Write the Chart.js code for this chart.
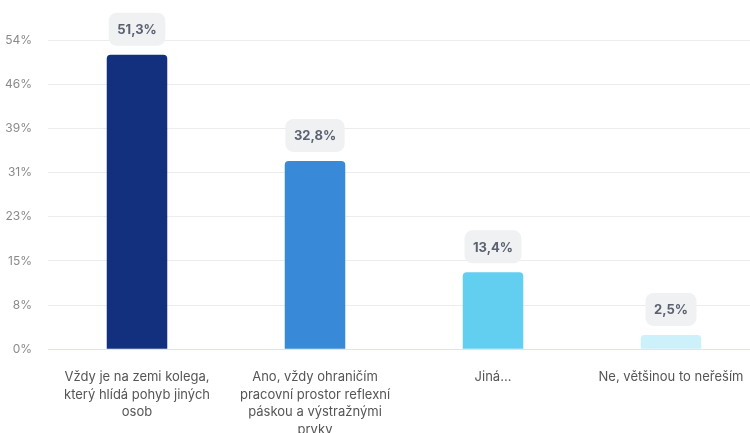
<!DOCTYPE html>
<html>
<head>
<meta charset="utf-8">
<script src="https://cdn.jsdelivr.net/npm/chart.js@4"></script>
<style>
    html, body { margin: 0; padding: 0; background: #fff; overflow: hidden; }
    #wrap { width: 750px; height: 433px; overflow: hidden; position: relative; }
    #box { width: 760px; height: 458px; position: absolute; left: 0; top: 0; }
</style>
</head>
<body>
<div id="wrap"><div id="box"><canvas id="surveyChart"></canvas></div></div>
<script>
// Survey answers (Czech)
const categories = [
    ['Vždy je na zemi kolega,', 'který hlídá pohyb jiných', 'osob'],
    ['Ano, vždy ohraničím', 'pracovní prostor reflexní', 'páskou a výstražnými', 'prvky'],
    ['Jiná...'],
    ['Ne, většinou to neřeším']
];
const shares = [51.3, 32.8, 13.4, 2.5];
const barColors = ['#13307f', '#3889d8', '#62cff0', '#cdf1fa'];
const yTickLabels = ['0%', '8%', '15%', '23%', '31%', '39%', '46%', '54%'];
const yMax = 53.87;

const fontFamily = 'Inter, "Noto Sans", sans-serif';

// value badges above bars
const badgePlugin = {
    id: 'badges',
    afterDatasetsDraw(chart) {
        const ctx = chart.ctx;
        const meta = chart.getDatasetMeta(0);
        ctx.save();
        ctx.font = 'bold 13px ' + fontFamily;
        ctx.textAlign = 'center';
        ctx.textBaseline = 'middle';
        meta.data.forEach((bar, i) => {
            const text = shares[i].toFixed(1).replace('.', ',') + '%';
            const w = ctx.measureText(text).width + 17;
            const h = 33;
            const cy = bar.y - 9 - h / 2;
            ctx.fillStyle = '#f0f1f2';
            ctx.beginPath();
            ctx.roundRect(bar.x - w / 2, cy - h / 2, w, h, 8);
            ctx.fill();
            ctx.fillStyle = '#5b6170';
            ctx.fillText(text, bar.x, cy + 1);
        });
        ctx.restore();
    }
};

new Chart(document.getElementById('surveyChart'), {
    type: 'bar',
    data: {
        labels: categories,
        datasets: [{
            data: shares,
            backgroundColor: barColors,
            borderRadius: 4,
            barPercentage: 0.34,
            categoryPercentage: 1
        }]
    },
    options: {
        responsive: true,
        maintainAspectRatio: false,
        animation: false,
        layout: { padding: { top: 40, left: 0, right: 0, bottom: 0 } },
        plugins: {
            legend: { display: false },
            tooltip: { enabled: false }
        },
        scales: {
            x: {
                grid: { display: false, drawTicks: false },
                border: { display: false },
                afterFit(scale) {
                    // labels fit inside their category, no side padding needed
                    scale.paddingLeft = 0;
                    scale.paddingRight = 0;
                },
                ticks: {
                    color: '#555',
                    padding: 19,
                    maxRotation: 0,
                    autoSkip: false,
                    font: { family: fontFamily, size: 13, lineHeight: 1.36 }
                }
            },
            y: {
                min: 0,
                max: yMax,
                afterBuildTicks(scale) {
                    scale.ticks = yTickLabels.map((t, i) => ({ value: yMax * i / 7 }));
                },
                afterFit(scale) {
                    scale.width = 48;
                },
                grid: {
                    drawTicks: false,
                    color: c => c.index === 0 ? '#dde3f1' : '#ececec'
                },
                border: { display: false },
                ticks: {
                    color: '#8a8a8a',
                    padding: 16,
                    font: { family: fontFamily, size: 12 },
                    callback: (v, i) => yTickLabels[i]
                }
            }
        }
    },
    plugins: [badgePlugin]
});
</script>
</body>
</html>
